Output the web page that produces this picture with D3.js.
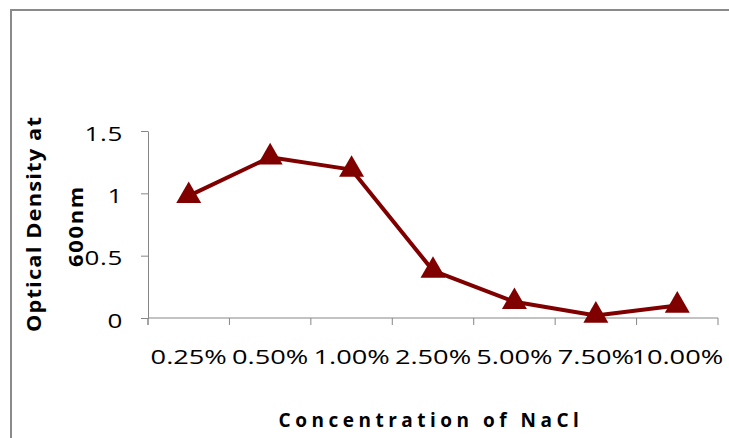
<!DOCTYPE html>
<html>
<head>
  <meta charset="utf-8">
  <style>
    body { margin: 0; background: #fff; }
    svg text { font-family: "Open Sans", "DejaVu Sans", sans-serif; fill: #000; }
    .tick line, .domain { stroke: #868686; }
  </style>
</head>
<body>
  <svg id="chart" width="729" height="438"></svg>
  <script src="https://d3js.org/d3.v7.min.js"></script>
  <script>
    // data
    const concentrations = ['0.25%', '0.50%', '1.00%', '2.50%', '5.00%', '7.50%', '10.00%'];
    const density = [0.98, 1.29, 1.19, 0.38, 0.13, 0.02, 0.10];
    const yTicks = [0, 0.5, 1, 1.5];

    const svg = d3.select('#chart');

    // chart frame, runs off the right and bottom edges
    svg.append('rect')
      .attr('x', 11).attr('y', 10)
      .attr('width', 800).attr('height', 500)
      .attr('fill', 'none')
      .attr('stroke', '#8a8a8a')
      .attr('stroke-width', 2);

    const x = d3.scaleBand().domain(concentrations).range([148, 718]);
    const y = d3.scaleLinear().domain([0, 1.5]).range([318, 131]);

    const xAxis = svg.append('g')
      .attr('transform', 'translate(0,318)')
      .call(d3.axisBottom(x).tickSize(7).tickSizeOuter(7).tickFormat(() => ''));
    // band axis puts ticks at centres; move them to the band edges
    xAxis.selectAll('.tick line').attr('transform', `translate(${-x.bandwidth() / 2},0)`);
    xAxis.select('.domain').attr('d', 'M148,0H718V7');
    xAxis.append('line')
      .attr('x1', 148).attr('x2', 148).attr('y1', 0).attr('y2', 7)
      .attr('stroke', '#868686');

    // the original text is stretched sideways
    const stretch = 1.36;
    svg.append('g').selectAll('text')
      .data(concentrations)
      .join('text')
      .attr('transform', d => `translate(${x(d) + x.bandwidth() / 2},364) scale(${stretch},1)`)
      .attr('text-anchor', 'middle')
      .style('font-size', '20px')
      .text(d => d);

    const yAxis = svg.append('g')
      .attr('transform', 'translate(148,0)')
      .call(d3.axisLeft(y).tickValues(yTicks).tickSize(7).tickSizeOuter(0)
        .tickFormat(d => d === 0 || d === 1 ? d : d3.format('.1f')(d)));
    yAxis.selectAll('.tick text')
      .attr('x', -25 / 1.3)
      .attr('y', -2)
      .attr('dy', '0.55em')
      .attr('transform', 'scale(1.3,1)')
      .style('font-size', '20px')
      .style('letter-spacing', '0.5px');

    // series line and triangle markers
    const cx = d => x(d) + x.bandwidth() / 2;
    const line = d3.line().x((d, i) => cx(concentrations[i])).y(d => y(d));
    svg.append('path')
      .datum(density)
      .attr('d', line)
      .attr('fill', 'none')
      .attr('stroke', '#800000')
      .attr('stroke-width', 4)
      .attr('stroke-linejoin', 'round');

    const tri = d3.symbol().type(d3.symbolTriangle).size(270);
    svg.append('g').selectAll('path')
      .data(density)
      .join('path')
      .attr('d', tri)
      .attr('transform', (d, i) => `translate(${cx(concentrations[i])},${y(d)})`)
      .attr('fill', '#800000');

    // axis titles
    svg.append('text')
      .attr('transform', 'translate(41,224) rotate(-90) scale(1.15,1)')
      .attr('text-anchor', 'middle')
      .style('font-size', '19px')
      .style('font-weight', 'bold')
      .style('letter-spacing', '1px')
      .text('Optical Density at');
    svg.append('text')
      .attr('transform', 'translate(83,226) rotate(-90) scale(1.15,1)')
      .attr('text-anchor', 'middle')
      .style('font-size', '19px')
      .style('font-weight', 'bold')
      .style('letter-spacing', '1.5px')
      .text('600nm');

    svg.append('text')
      .attr('x', 431).attr('y', 427)
      .attr('text-anchor', 'middle')
      .style('font-size', '19px')
      .style('font-weight', 'bold')
      .style('letter-spacing', '4.5px')
      .text('Concentration of NaCl');
  </script>
</body>
</html>
